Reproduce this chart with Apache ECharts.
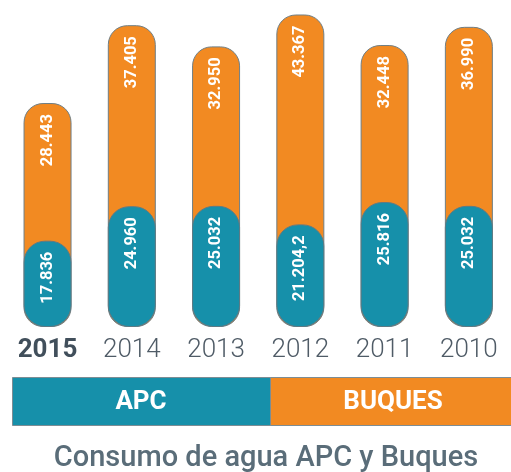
<!DOCTYPE html>
<html>
<head>
<meta charset="utf-8">
<script src="https://cdn.jsdelivr.net/npm/echarts@6/dist/echarts.min.js"></script>
<style>html,body{margin:0;padding:0;background:#fff}#c{width:511px;height:472px}</style>
</head>
<body>
<div id="c"></div>
<script>
const years = ['2015', '2014', '2013', '2012', '2011', '2010'];
const apc = [17836, 24960, 25032, 21204.2, 25816, 25032];
const buques = [28443, 37405, 32950, 43367, 32448, 36990];
const legendNames = ['APC', 'BUQUES'];
const titleText = 'Consumo de agua APC y Buques';

function fmt(v) {
  const parts = String(v).split('.');
  const intPart = parts[0].replace(/\B(?=(\d{3})+(?!\d))/g, '.');
  return parts.length > 1 ? intPart + ',' + parts[1] : intPart;
}
const totals = apc.map((a, i) => a + buques[i]);

const TEAL = '#1690aa';
const ORANGE = '#f28a22';
const labelStyle = {
  show: true,
  position: 'insideTop',
  distance: 11,
  rotate: 90,
  align: 'right',
  verticalAlign: 'middle',
  color: '#ffffff',
  fontFamily: 'Roboto',
  fontWeight: 'bold',
  fontSize: 16.5
};

const chart = echarts.init(document.getElementById('c'), null, {renderer: 'canvas'});
chart.setOption({
  animation: false,
  grid: {left: 5.4, width: 511.2, top: 10, height: 317, containLabel: false},
  xAxis: {
    type: 'category',
    data: years,
    axisLine: {show: false},
    axisTick: {show: false},
    axisLabel: {
      interval: 0,
      margin: 10,
      fontFamily: 'Roboto',
      fontSize: 26,
      color: '#4f5b66',
      fontWeight: 300,
      formatter: (v, i) => i === 0 ? '{b|' + v + '}' : v,
      rich: {b: {fontFamily: 'Roboto', fontSize: 26, fontWeight: 'bold', color: '#414f5b'}}
    }
  },
  yAxis: {type: 'value', min: 0, max: 65500, show: false, splitLine: {show: false}},
  series: [
    {
      name: legendNames[1],
      type: 'bar',
      data: totals,
      barWidth: 48,
      barGap: '-100%',
      itemStyle: {color: ORANGE, borderRadius: 19, borderColor: '#6f7f86', borderWidth: 1},
      label: Object.assign({}, labelStyle, {formatter: p => fmt(buques[p.dataIndex])}),
      z: 2
    },
    {
      name: legendNames[0],
      type: 'bar',
      data: apc,
      barWidth: 48,
      barGap: '-100%',
      itemStyle: {color: TEAL, borderRadius: 21, borderColor: '#5f7a84', borderWidth: 1},
      label: Object.assign({}, labelStyle, {formatter: p => fmt(apc[p.dataIndex])}),
      z: 3
    }
  ],
  graphic: [
    {type: 'rect', left: 12, top: 377, shape: {width: 258, height: 48},
     style: {fill: TEAL, stroke: '#7d8d94', lineWidth: 1}},
    {type: 'rect', left: 270, top: 377, shape: {width: 242, height: 48},
     style: {fill: ORANGE, stroke: '#7d8d94', lineWidth: 1}},
    {type: 'text', x: 141, y: 402,
     style: {text: legendNames[0], fill: '#fff', font: 'bold 26px Roboto', align: 'center', verticalAlign: 'middle'}},
    {type: 'text', x: 393, y: 402,
     style: {text: legendNames[1], fill: '#fff', font: 'bold 26px Roboto', align: 'center', verticalAlign: 'middle'}},
    {type: 'text', x: 266, y: 459,
     style: {text: titleText, fill: '#5a6d79', font: '500 29px Roboto', align: 'center', verticalAlign: 'middle'}}
  ]
});
</script>
</body>
</html>
